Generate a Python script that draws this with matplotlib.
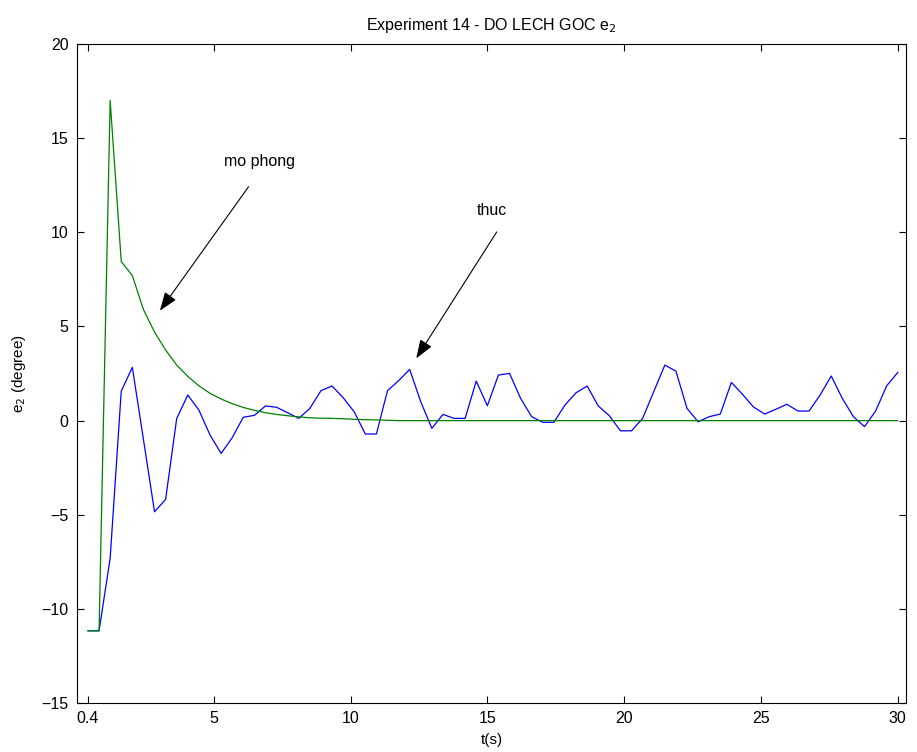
import numpy as np
import matplotlib
matplotlib.use('Agg')
from matplotlib import pyplot as plt

plt.rcParams['font.family'] = ['Liberation Sans', 'DejaVu Sans']

# sample times: 74 samples from 0.4 s to 30 s
t = np.linspace(0.4, 30.0, 74)

# measured response (thuc)
e2_thuc = [-11.16, -11.16, -7.31, 1.57, 2.83, -1.0, -4.84, -4.18, 0.12, 1.36,
           0.56, -0.76, -1.74, -0.91, 0.18, 0.28, 0.78, 0.71, 0.42, 0.12,
           0.65, 1.59, 1.84, 1.22, 0.47, -0.71, -0.71, 1.59, 2.12, 2.72,
           1.0, -0.41, 0.33, 0.12, 0.12, 2.10, 0.79, 2.42, 2.51, 1.18,
           0.21, -0.09, -0.09, 0.83, 1.48, 1.84, 0.78, 0.26, -0.54, -0.54,
           0.12, 1.54, 2.95, 2.63, 0.65, -0.06, 0.21, 0.35, 2.03, 1.40,
           0.72, 0.35, 0.60, 0.87, 0.51, 0.51, 1.36, 2.37, 1.18, 0.21,
           -0.32, 0.51, 1.85, 2.56]

# simulated response (mo phong)
e2_mophong = [-11.16, -11.16, 17.0, 8.45, 7.7, 5.9, 4.7, 3.75, 2.95, 2.35,
              1.85, 1.45, 1.15, 0.9, 0.7, 0.55, 0.42, 0.33, 0.26, 0.2,
              0.15, 0.13, 0.12, 0.1, 0.07, 0.05, 0.04, 0.02] + [0.0] * 46

xticks = [0.4, 5, 10, 15, 20, 25, 30]
xticklabels = ['0.4', '5', '10', '15', '20', '25', '30']
yticks = [-15, -10, -5, 0, 5, 10, 15, 20]

fig = plt.figure(figsize=(9.17, 7.52), dpi=100)
ax = fig.add_axes([0.084, 0.065, 0.904, 0.8765])

ax.plot(t, e2_thuc, color=(0, 0, 1), lw=0.9)
ax.plot(t, e2_mophong, color=(0, 0.5, 0), lw=0.9)

ax.set_xlim(0, 30.3)
ax.set_ylim(-15, 20)
ax.set_xticks(xticks)
ax.set_xticklabels(xticklabels)
ax.set_yticks(yticks)
ax.tick_params(direction='in', top=True, right=True, length=5, width=0.8,
               labelsize=11.5, pad=6)
for s in ax.spines.values():
    s.set_linewidth(0.8)

ax.set_title('Experiment 14 - DO LECH GOC e$_2$', fontsize=11.5, pad=10)
ax.set_xlabel('t(s)', fontsize=11, labelpad=5)
ax.set_ylabel('e$_2$ (degree)', fontsize=11, labelpad=10)

arrow = dict(arrowstyle='-|>,head_length=0.95,head_width=0.35', color='k',
             lw=0.8, mutation_scale=12, shrinkA=0, shrinkB=0)
ax.text(6.66, 13.75, 'mo phong', fontsize=11.5, ha='center', va='center')
ax.annotate('', xy=(3.03, 5.84), xytext=(6.27, 12.42), arrowprops=arrow)
ax.text(15.16, 11.18, 'thuc', fontsize=11.5, ha='center', va='center')
ax.annotate('', xy=(12.40, 3.31), xytext=(15.34, 10.02), arrowprops=arrow)

fig.savefig('out.png', dpi=100)
